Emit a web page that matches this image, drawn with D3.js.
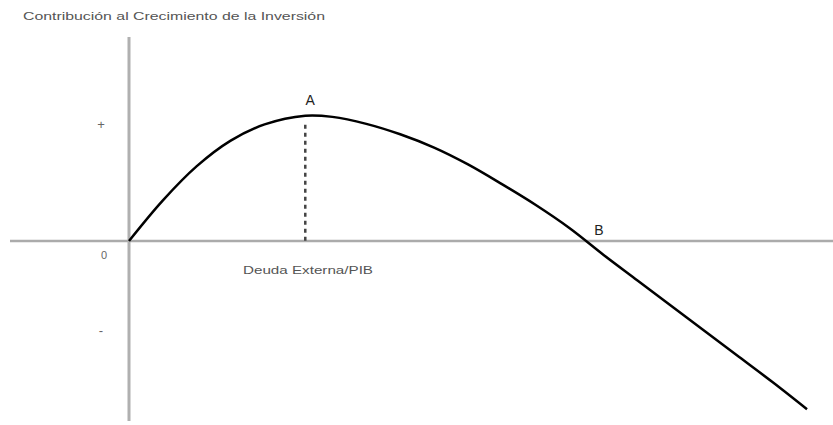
<!DOCTYPE html>
<html>
<head>
<meta charset="utf-8">
<script src="https://cdn.jsdelivr.net/npm/d3@7"></script>
<style>
  body { margin: 0; background: #fff; }
  text { font-family: "Liberation Sans", Arial, sans-serif; }
</style>
</head>
<body>
<div id="chart"></div>
<script>
// Debt ratio (arbitrary units) and contribution to investment growth
const debtRatio = [0, 5, 10, 15, 20, 26, 30, 35, 40, 45, 50, 55, 60, 65, 70, 75, 80, 85, 90, 95, 100];
const contribution = [0, 0.35, 0.645, 0.865, 1.005, 1.08, 1.07, 1.01, 0.92, 0.805, 0.66, 0.49, 0.31, 0.11, -0.12, -0.34, -0.56, -0.78, -1.0, -1.22, -1.45];

// Labelled points on the curve
const pointNames = ['A', 'B'];
const pointX = [26, 67.4];
const pointY = [1.08, 0];

// Y tick labels (qualitative sign)
const yTickValues = [1, -0.78];
const yTickLabels = ['+', '-'];

const width = 833, height = 425;

const svg = d3.select("#chart")
    .append("svg")
    .attr("width", width)
    .attr("height", height);

const x = d3.scaleLinear().domain([0, 100]).range([129, 807]);
const y = d3.scaleLinear().domain([0, 1]).range([241, 125]);

const data = debtRatio.map((d, i) => ({x: d, y: contribution[i]}));

// Title
svg.append("text")
    .attr("x", 23)
    .attr("y", 20)
    .attr("textLength", 302)
    .attr("lengthAdjust", "spacingAndGlyphs")
    .style("font-size", "11px")
    .style("fill", "#555")
    .text("Contribución al Crecimiento de la Inversión");

// Axes
svg.append("line")
    .attr("x1", 10).attr("x2", width)
    .attr("y1", y(0)).attr("y2", y(0))
    .attr("stroke", "#ababab")
    .attr("stroke-width", 2.5);

svg.append("line")
    .attr("x1", x(0)).attr("x2", x(0))
    .attr("y1", 37).attr("y2", 421)
    .attr("stroke", "#b0b0b0")
    .attr("stroke-width", 3);

// Y tick labels
svg.selectAll(".ytick")
    .data(yTickValues)
    .enter()
    .append("text")
    .attr("class", "ytick")
    .attr("x", 101)
    .attr("y", d => y(d) + 4)
    .attr("text-anchor", "middle")
    .style("font-size", "13px")
    .style("fill", "#666")
    .text((d, i) => yTickLabels[i]);

// Origin
svg.append("text")
    .attr("x", x(0) - 25)
    .attr("y", y(0) + 18)
    .attr("text-anchor", "middle")
    .style("font-size", "11px")
    .style("fill", "#666")
    .text("0");

// X axis label
svg.append("text")
    .attr("x", 243)
    .attr("y", 274)
    .attr("textLength", 130)
    .attr("lengthAdjust", "spacingAndGlyphs")
    .style("font-size", "11px")
    .style("fill", "#555")
    .text("Deuda Externa/PIB");

// Dashed drop line from A
svg.append("line")
    .attr("x1", x(pointX[0])).attr("x2", x(pointX[0]))
    .attr("y1", y(pointY[0]) + 9).attr("y2", y(0))
    .attr("stroke", "#444")
    .attr("stroke-width", 2.5)
    .attr("stroke-dasharray", "4,4");

// Curve
const line = d3.line()
    .x(d => x(d.x))
    .y(d => y(d.y))
    .curve(d3.curveCatmullRom);

svg.append("path")
    .datum(data)
    .attr("fill", "none")
    .attr("stroke", "#000")
    .attr("stroke-width", 2.5)
    .attr("d", line);

// Point labels
svg.selectAll(".plabel")
    .data(pointNames)
    .enter()
    .append("text")
    .attr("class", "plabel")
    .attr("x", (d, i) => x(pointX[i]) + (i === 0 ? 5 : 13))
    .attr("y", (d, i) => y(pointY[i]) - (i === 0 ? 11 : 6))
    .attr("text-anchor", "middle")
    .style("font-size", "14px")
    .style("fill", "#222")
    .text(d => d);
</script>
</body>
</html>
